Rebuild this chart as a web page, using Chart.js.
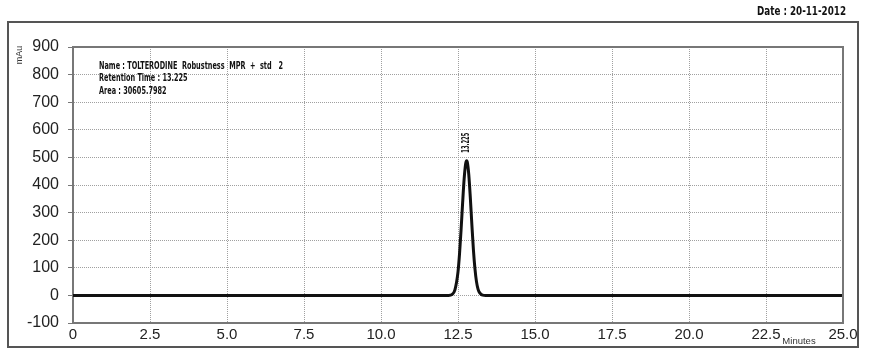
<!DOCTYPE html>
<html>
<head>
<meta charset="utf-8">
<script src="https://cdn.jsdelivr.net/npm/chart.js@4.4.1/dist/chart.umd.min.js"></script>
<style>
  html, body { margin: 0; padding: 0; background: #fff; }
  #wrap { width: 870px; height: 348px; position: relative; }
</style>
</head>
<body>
<div id="wrap"><canvas id="chrom"></canvas></div>
<script>
// chromatogram points (minutes, mAu)
const times = [0, 5, 10, 12.2, 12.3, 12.4, 12.5, 12.55, 12.6, 12.65, 12.7, 12.75, 12.78, 12.8, 12.85, 12.9, 12.95, 13.0, 13.05, 13.1, 13.15, 13.2, 13.3, 13.4, 15, 20, 25];
const signal = [0, 0, 0, 0, 3, 20, 85, 151, 238, 335, 423, 478, 488, 484, 438, 354, 257, 166, 97, 50, 23, 10, 1, 0, 0, 0, 0];
const xTicks = ['0', '2.5', '5.0', '7.5', '10.0', '12.5', '15.0', '17.5', '20.0', '22.5', '25.0'];
const yTicks = [-100, 0, 100, 200, 300, 400, 500, 600, 700, 800, 900];
const infoLines = ['Name : TOLTERODINE  Robustness  MPR  +  std   2', 'Retention Time : 13.225', 'Area : 30605.7982'];
const peakLabel = { x: 12.78, y: 488, text: '13.225' };
const dateText = 'Date : 20-11-2012';

const points = times.map((t, i) => ({ x: t, y: signal[i] }));
const narrow = '"Liberation Sans Narrow", "DejaVu Sans Condensed", sans-serif';

// draw text squeezed horizontally to a target width
function squeezed(c, text, x, y, sx) {
    c.save();
    c.translate(x, y);
    c.scale(sx, 1);
    c.fillText(text, 0, 0);
    c.restore();
}

const decor = {
    id: 'decor',
    afterDraw(chart) {
        const c = chart.ctx;
        const a = chart.chartArea;
        const xs = chart.scales.x, ys = chart.scales.y;
        c.save();
        // outer frame
        c.strokeStyle = '#555';
        c.lineWidth = 2;
        c.strokeRect(8, 22, 850, 325);
        // plot frame top/right
        c.strokeStyle = '#777';
        c.beginPath();
        c.moveTo(a.left, a.top); c.lineTo(a.right, a.top); c.lineTo(a.right, a.bottom);
        c.stroke();
        c.fillStyle = '#111';
        c.textBaseline = 'middle';
        c.textAlign = 'left';
        // date
        c.font = 'bold 12px ' + narrow;
        squeezed(c, dateText, 757, 12, 89 / c.measureText(dateText).width);
        // info text
        c.font = 'bold 11px ' + narrow;
        const sx = 184 / c.measureText(infoLines[0]).width;
        infoLines.forEach((s, i) => squeezed(c, s, 99, 66 + i * 12.5, sx));
        // peak label rotated
        c.save();
        c.translate(xs.getPixelForValue(peakLabel.x), ys.getPixelForValue(peakLabel.y) - 8);
        c.rotate(-Math.PI / 2);
        c.font = 'bold 10px ' + narrow;
        squeezed(c, peakLabel.text, 0, 0, 20 / c.measureText(peakLabel.text).width);
        c.restore();
        // mAu
        c.save();
        c.translate(20, 55);
        c.rotate(-Math.PI / 2);
        c.font = '9px "Liberation Sans", sans-serif';
        c.textAlign = 'center';
        c.fillStyle = '#333';
        c.fillText('mAu', 0, 0);
        c.restore();
        // Minutes
        c.font = '9.5px "Liberation Sans", sans-serif';
        c.textAlign = 'center';
        c.fillStyle = '#333';
        c.fillText('Minutes', 799, 341);
        c.restore();
    }
};

new Chart(document.getElementById('chrom').getContext('2d'), {
    type: 'line',
    data: {
        datasets: [{
            data: points,
            borderColor: '#111',
            borderWidth: 3,
            pointRadius: 0,
            cubicInterpolationMode: 'monotone',
            fill: false,
        }],
    },
    options: {
        responsive: true,
        maintainAspectRatio: false,
        animation: false,
        layout: { padding: { left: 0, top: 47, right: 27, bottom: 0 } },
        plugins: { legend: { display: false }, tooltip: { enabled: false } },
        scales: {
            x: {
                type: 'linear',
                min: 0, max: 25,
                afterFit(s) { s.height = 25; },
                afterBuildTicks(s) { s.ticks = xTicks.map((t) => ({ value: parseFloat(t) })); },
                ticks: {
                    maxRotation: 0, autoSkip: false, padding: 3,
                    color: '#222',
                    font: { family: '"Liberation Sans", Arial, sans-serif', size: 15 },
                    callback: (v, i) => xTicks[i],
                },
                grid: { color: '#a0a0a0', drawTicks: false },
                border: { color: '#777', width: 2, dash: [1, 1] },
            },
            y: {
                min: -100, max: 900,
                afterFit(s) { s.width = 73; },
                afterBuildTicks(s) { s.ticks = yTicks.map((v) => ({ value: v })); },
                ticks: {
                    color: '#222', padding: 9,
                    font: { family: '"Liberation Sans", Arial, sans-serif', size: 16 },
                },
                grid: { color: '#a0a0a0', tickLength: 5, tickColor: '#777', tickBorderDash: [] },
                border: { color: '#777', width: 2, dash: [1, 1] },
            },
        },
    },
    plugins: [decor],
});
</script>
</body>
</html>
